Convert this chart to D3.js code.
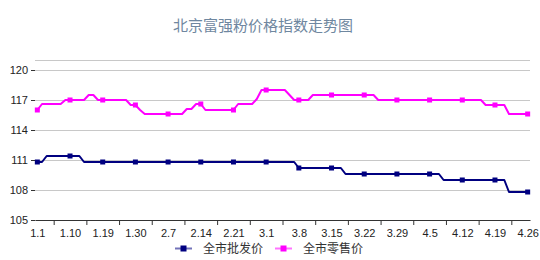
<!DOCTYPE html>
<html>
<head>
<meta charset="utf-8">
<script src="https://cdn.jsdelivr.net/npm/d3@7/dist/d3.min.js"></script>
<style>
  body { margin: 0; background: #fff; }
  svg text { font-family: "Liberation Sans", Arial, "Noto Sans CJK SC", sans-serif; }
</style>
</head>
<body>
<div id="chart"></div>
<script>
// Tick labels, one for every 7th point
var tickLabels = ["1.1", "1.10", "1.19", "1.30", "2.7", "2.14", "2.21", "3.1",
                  "3.8", "3.15", "3.22", "3.29", "4.5", "4.12", "4.19", "4.26"];

// 全市批发价 (wholesale), one row per week of points
var wholesale = [
    110.8, 110.8, 111.4, 111.4, 111.4, 111.4, 111.4,
    111.4, 111.4, 111.4, 110.8, 110.8, 110.8, 110.8,
    110.8, 110.8, 110.8, 110.8, 110.8, 110.8, 110.8,
    110.8, 110.8, 110.8, 110.8, 110.8, 110.8, 110.8,
    110.8, 110.8, 110.8, 110.8, 110.8, 110.8, 110.8,
    110.8, 110.8, 110.8, 110.8, 110.8, 110.8, 110.8,
    110.8, 110.8, 110.8, 110.8, 110.8, 110.8, 110.8,
    110.8, 110.8, 110.8, 110.8, 110.8, 110.8, 110.8,
    110.2, 110.2, 110.2, 110.2, 110.2, 110.2, 110.2,
    110.2, 110.2, 110.2, 109.6, 109.6, 109.6, 109.6,
    109.6, 109.6, 109.6, 109.6, 109.6, 109.6, 109.6,
    109.6, 109.6, 109.6, 109.6, 109.6, 109.6, 109.6,
    109.6, 109.6, 109.6, 109.0, 109.0, 109.0, 109.0,
    109.0, 109.0, 109.0, 109.0, 109.0, 109.0, 109.0,
    109.0, 109.0, 109.0, 107.8, 107.8, 107.8, 107.8,
    107.8
];

// 全市零售价 (retail)
var retail = [
    116.0, 116.6, 116.6, 116.6, 116.6, 116.6, 117.0,
    117.0, 117.0, 117.0, 117.0, 117.5, 117.5, 117.0,
    117.0, 117.0, 117.0, 117.0, 117.0, 117.0, 116.5,
    116.5, 116.0, 115.6, 115.6, 115.6, 115.6, 115.6,
    115.6, 115.6, 115.6, 115.6, 116.1, 116.1, 116.6,
    116.6, 116.0, 116.0, 116.0, 116.0, 116.0, 116.0,
    116.0, 116.6, 116.6, 116.6, 116.6, 117.1, 118.0,
    118.0, 118.0, 118.0, 118.0, 118.0, 117.5, 117.0,
    117.0, 117.0, 117.0, 117.5, 117.5, 117.5, 117.5,
    117.5, 117.5, 117.5, 117.5, 117.5, 117.5, 117.5,
    117.5, 117.5, 117.5, 117.0, 117.0, 117.0, 117.0,
    117.0, 117.0, 117.0, 117.0, 117.0, 117.0, 117.0,
    117.0, 117.0, 117.0, 117.0, 117.0, 117.0, 117.0,
    117.0, 117.0, 117.0, 117.0, 117.0, 116.5, 116.5,
    116.5, 116.5, 116.5, 115.6, 115.6, 115.6, 115.6,
    115.6
];

var yTicks = [105, 108, 111, 114, 117, 120];

var seriesNames = ["全市批发价", "全市零售价"];
var seriesColors = ["#000080", "#ff00ff"];

var width = 540, height = 260;
var margin = { top: 60, right: 10, bottom: 40, left: 35 };
var innerW = width - margin.left - margin.right;
var innerH = height - margin.top - margin.bottom;

var svg = d3.select("#chart").append("svg")
    .attr("width", width)
    .attr("height", height);

// Title
svg.append("text")
    .attr("x", 263)
    .attr("y", 31)
    .attr("text-anchor", "middle")
    .attr("fill", "#6f87a0")
    .style("font-family", "'Noto Sans CJK SC', sans-serif")
    .style("font-size", "15px")
    .text("北京富强粉价格指数走势图");

var g = svg.append("g")
    .attr("transform", `translate(${margin.left}, ${margin.top})`);

var n = wholesale.length;

// Each point sits in the middle of its own slot
var x = d3.scaleLinear()
    .domain([-0.5, n - 0.5])
    .range([0, innerW]);

var y = d3.scaleLinear()
    .domain([105, 121])
    .range([innerH, 0]);

// Grid lines (plus one along the top)
g.append("g")
    .selectAll("line")
    .data(yTicks.concat([121]))
    .join("line")
    .attr("x1", 0)
    .attr("x2", innerW)
    .attr("y1", d => Math.round(y(d)) + 0.5)
    .attr("y2", d => Math.round(y(d)) + 0.5)
    .attr("stroke", "#c8c8c8")
    .attr("stroke-width", 1);

// Y axis, ticks only
var yAxis = g.append("g")
    .call(d3.axisLeft(y).tickValues(yTicks).tickSize(4).tickPadding(3));
yAxis.select(".domain").remove();
yAxis.selectAll("line").attr("stroke", "#333");
yAxis.selectAll("text").attr("fill", "#222").style("font-size", "11px");

// X axis labels every 7th point
var labelIdx = tickLabels.map((d, i) => i * 7);
var xAxis = g.append("g")
    .attr("transform", `translate(0, ${innerH})`)
    .call(d3.axisBottom(x)
        .tickValues(labelIdx)
        .tickSize(0)
        .tickPadding(9)
        .tickFormat((d, i) => tickLabels[i]));
xAxis.select(".domain").attr("stroke", "#333");
xAxis.selectAll("text").attr("fill", "#222").style("font-size", "11px");

// X axis tick marks sit between the labels
var markIdx = labelIdx.slice(0, -1).map(d => d + 3.5);
var xMarks = g.append("g")
    .attr("transform", `translate(0, ${innerH})`)
    .call(d3.axisBottom(x).tickValues(markIdx).tickSize(5).tickFormat(""));
xMarks.select(".domain").remove();
xMarks.selectAll("line").attr("stroke", "#333");

// Lines and markers
var line = d3.line()
    .x((d, i) => x(i))
    .y(d => y(d));

[wholesale, retail].forEach(function (data, s) {
    g.append("path")
        .datum(data)
        .attr("fill", "none")
        .attr("stroke", seriesColors[s])
        .attr("stroke-width", 2)
        .attr("stroke-linejoin", "round")
        .attr("d", line);

    g.append("g")
        .selectAll("rect")
        .data(labelIdx)
        .join("rect")
        .attr("x", d => x(d) - 2.5)
        .attr("y", d => y(data[d]) - 2.5)
        .attr("width", 5)
        .attr("height", 5)
        .attr("fill", seriesColors[s]);
});

// Legend
var legendX = [175, 275];
var legend = svg.append("g").attr("transform", "translate(0, 248)");
seriesNames.forEach(function (name, s) {
    var item = legend.append("g").attr("transform", `translate(${legendX[s]}, 0)`);
    item.append("line")
        .attr("x1", 0).attr("x2", 17)
        .attr("y1", 0.5).attr("y2", 0.5)
        .attr("stroke", seriesColors[s])
        .attr("stroke-opacity", 0.55)
        .attr("stroke-width", 2);
    item.append("rect")
        .attr("x", 5.5).attr("y", -2.5)
        .attr("width", 6).attr("height", 6)
        .attr("fill", seriesColors[s]);
    item.append("text")
        .attr("x", 28)
        .attr("y", 5)
        .attr("fill", "#333")
        .style("font-family", "'Noto Sans CJK SC', sans-serif")
        .style("font-size", "12px")
        .text(name);
});
</script>
</body>
</html>
